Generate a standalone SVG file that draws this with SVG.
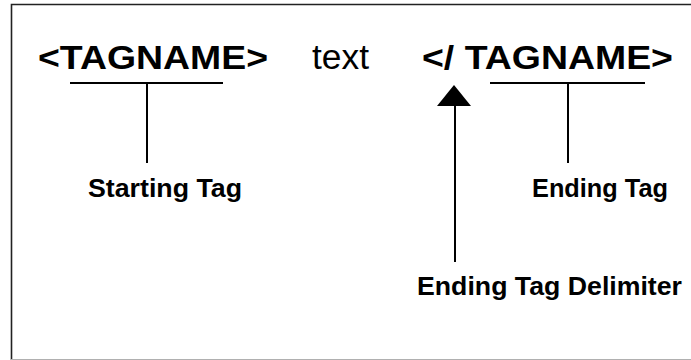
<svg xmlns="http://www.w3.org/2000/svg" width="691" height="360" viewBox="0 0 691 360">
<style>
.big{font-family:"Liberation Sans",Arial,sans-serif;font-weight:bold;font-size:34px;fill:#000}
.reg{font-family:"Liberation Sans",Arial,sans-serif;font-size:35px;fill:#000}
.lbl{font-family:"Liberation Sans",Arial,sans-serif;font-weight:bold;font-size:26px;fill:#000}
.ln{stroke:#000;stroke-width:2;fill:none}
</style>
<rect width="691" height="360" fill="#fff"/>
<g id="frame">
<path d="M11.5,360 V4.5 H691" fill="none" stroke="#222" stroke-width="1.6"/>
<line x1="11" y1="359.5" x2="691" y2="359.5" stroke="#b0b0b0" stroke-width="1"/>
</g>
<g id="start-tag"><text class="big" x="38" y="69" textLength="230" lengthAdjust="spacingAndGlyphs">&lt;TAGNAME&gt;</text></g>
<g id="text-word"><text class="reg" x="312" y="69" textLength="57" lengthAdjust="spacingAndGlyphs">text</text></g>
<g id="end-tag"><text class="big" x="422" y="69" textLength="251" lengthAdjust="spacingAndGlyphs">&lt;/ TAGNAME&gt;</text></g>
<g id="label-starting"><text class="lbl" x="88" y="197" textLength="154" lengthAdjust="spacingAndGlyphs">Starting Tag</text></g>
<g id="label-ending"><text class="lbl" x="532" y="197" textLength="136" lengthAdjust="spacingAndGlyphs">Ending Tag</text></g>
<g id="label-delim"><text class="lbl" x="417" y="295" textLength="265" lengthAdjust="spacingAndGlyphs">Ending Tag Delimiter</text></g>
<g id="connectors">
<path class="ln" d="M70,83 H223 M147,83 V163"/>
<path class="ln" d="M490,83 H645 M568,83 V163"/>
<line class="ln" x1="455" y1="104" x2="455" y2="262"/>
<polygon points="454,85 437,106 471,106" fill="#000"/>
</g>
</svg>
